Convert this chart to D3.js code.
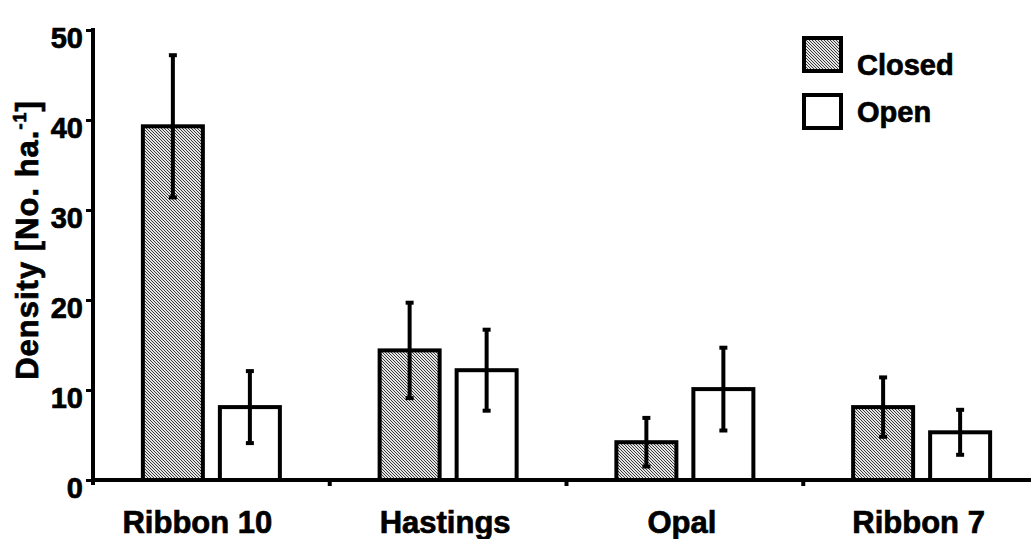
<!DOCTYPE html>
<html>
<head>
<meta charset="utf-8">
<script src="https://cdnjs.cloudflare.com/ajax/libs/d3/7.8.5/d3.min.js"></script>
<style>
  body { margin: 0; background: #fff; }
  svg { display: block; font-family: "Liberation Sans", Arial, sans-serif; font-weight: bold; }
  .heavy { stroke: #000; stroke-width: 0.7px; }
</style>
</head>
<body>
<svg id="chart" width="1031" height="539"></svg>
<script>
var sites = ['Ribbon 10', 'Hastings', 'Opal', 'Ribbon 7'];
var seriesNames = ['Closed', 'Open'];
var closedMean = [39.3, 14.4, 4.2, 8.1];
var closedErr = [7.9, 5.3, 2.7, 3.3];
var openMean = [8.1, 12.2, 10.1, 5.3];
var openErr = [4.0, 4.5, 4.6, 2.5];
var yTicks = [0, 10, 20, 30, 40, 50];

var svg = d3.select('#chart');

// fine hatch fill used for the "Closed" bars
var defs = svg.append('defs');
var pat = defs.append('pattern')
    .attr('id', 'hatch')
    .attr('patternUnits', 'userSpaceOnUse')
    .attr('width', 3).attr('height', 3);
pat.append('rect').attr('width', 3).attr('height', 3).attr('fill', '#e4e4e4');
[[0, 0], [1, 1], [2, 2]].forEach(function(p){
    pat.append('rect').attr('x', p[0]).attr('y', p[1])
        .attr('width', 1).attr('height', 1).attr('fill', '#3a3a3a');
});

var y = d3.scaleLinear().domain([0, 50]).range([480, 30]);
var x = d3.scaleBand().domain(sites).range([93, 1040]).padding(0);
var xs = d3.scaleBand().domain(seriesNames).range([-68.5, 68.5]).paddingInner(17 / 77);

var rows = [];
sites.forEach(function(s, i){
    rows.push({ site: s, series: 'Closed', mean: closedMean[i], err: closedErr[i] });
    rows.push({ site: s, series: 'Open', mean: openMean[i], err: openErr[i] });
});

function barX(d){
    return x(d.site) + x.bandwidth() / 2 + xs(d.series);
}

// bars
svg.append('g').selectAll('rect')
    .data(rows).enter().append('rect')
    .attr('x', barX)
    .attr('y', function(d){ return y(d.mean); })
    .attr('width', xs.bandwidth())
    .attr('height', function(d){ return y(0) - y(d.mean); })
    .attr('fill', function(d){ return d.series === 'Closed' ? 'url(#hatch)' : '#fff'; })
    .attr('stroke', '#000')
    .attr('stroke-width', 4);

// error bars
var eb = svg.append('g').selectAll('g')
    .data(rows).enter().append('g')
    .attr('transform', function(d){ return 'translate(' + (barX(d) + xs.bandwidth() / 2) + ',0)'; });
eb.append('line')
    .attr('y1', function(d){ return y(d.mean + d.err); })
    .attr('y2', function(d){ return y(d.mean - d.err); })
    .attr('stroke', '#000').attr('stroke-width', 4);
eb.append('line')
    .attr('x1', -4).attr('x2', 4)
    .attr('y1', function(d){ return y(d.mean + d.err); })
    .attr('y2', function(d){ return y(d.mean + d.err); })
    .attr('stroke', '#000').attr('stroke-width', 4);
eb.append('line')
    .attr('x1', -4).attr('x2', 4)
    .attr('y1', function(d){ return y(d.mean - d.err); })
    .attr('y2', function(d){ return y(d.mean - d.err); })
    .attr('stroke', '#000').attr('stroke-width', 4);

// x axis
var xAxis = svg.append('g');
xAxis.append('line')
    .attr('x1', 91).attr('x2', 1031)
    .attr('y1', y(0)).attr('y2', y(0))
    .attr('stroke', '#000').attr('stroke-width', 4);
xAxis.selectAll('.xtick')
    .data(sites.slice(1)).enter().append('line')
    .attr('x1', function(d){ return x(d); })
    .attr('x2', function(d){ return x(d); })
    .attr('y1', y(0)).attr('y2', y(0) + 6)
    .attr('stroke', '#000').attr('stroke-width', 4);
xAxis.selectAll('text')
    .data(sites).enter().append('text')
    .attr('class', 'heavy')
    .attr('x', function(d){ return x(d) + x.bandwidth() / 2 - (d === 'Ribbon 10' ? 14 : 3); })
    .attr('y', 533)
    .attr('text-anchor', 'middle')
    .style('font-size', '31px')
    .text(function(d){ return d; });

// y axis
var yAxis = svg.append('g').attr('transform', 'translate(93,0)')
    .call(d3.axisLeft(y).tickValues(yTicks).tickSize(7).tickPadding(3).tickFormat(d3.format('d')));
yAxis.select('.domain').remove();
yAxis.append('line')
    .attr('y1', y(50) - 2).attr('y2', y(0) + 5)
    .attr('stroke', '#000').attr('stroke-width', 4);
yAxis.selectAll('.tick line').attr('stroke', '#000').attr('stroke-width', 3);
yAxis.selectAll('.tick text')
    .attr('class', 'heavy')
    .attr('fill', '#000')
    .attr('dy', '0.32em')
    .attr('y', 8)
    .style('font-size', '29px')
    .style('font-family', '"Liberation Sans", Arial, sans-serif')
    .style('font-weight', 'bold');

// y axis title
var yTitle = svg.append('text')
    .attr('class', 'heavy')
    .attr('transform', 'translate(38,240) rotate(-90)')
    .attr('text-anchor', 'middle')
    .style('font-size', '31px')
    .style('letter-spacing', '1px');
yTitle.append('tspan').text('Density [No. ha.');
yTitle.append('tspan').attr('dy', -12).style('font-size', '18px').text('-1');
yTitle.append('tspan').attr('dy', 12).text(']');

// legend
var legend = svg.append('g').attr('transform', 'translate(804,38)');
var li = legend.selectAll('g')
    .data(seriesNames).enter().append('g')
    .attr('transform', function(d, i){ return 'translate(0,' + (i * 57) + ')'; });
li.append('rect')
    .attr('width', 37).attr('height', 33)
    .attr('fill', function(d){ return d === 'Closed' ? 'url(#hatch)' : '#fff'; })
    .attr('stroke', '#000').attr('stroke-width', 4);
li.append('text')
    .attr('class', 'heavy')
    .attr('x', 53).attr('y', function(d, i){ return i === 0 ? 37 : 27; })
    .style('font-size', '29px')
    .text(function(d){ return d; });
</script>
</body>
</html>
